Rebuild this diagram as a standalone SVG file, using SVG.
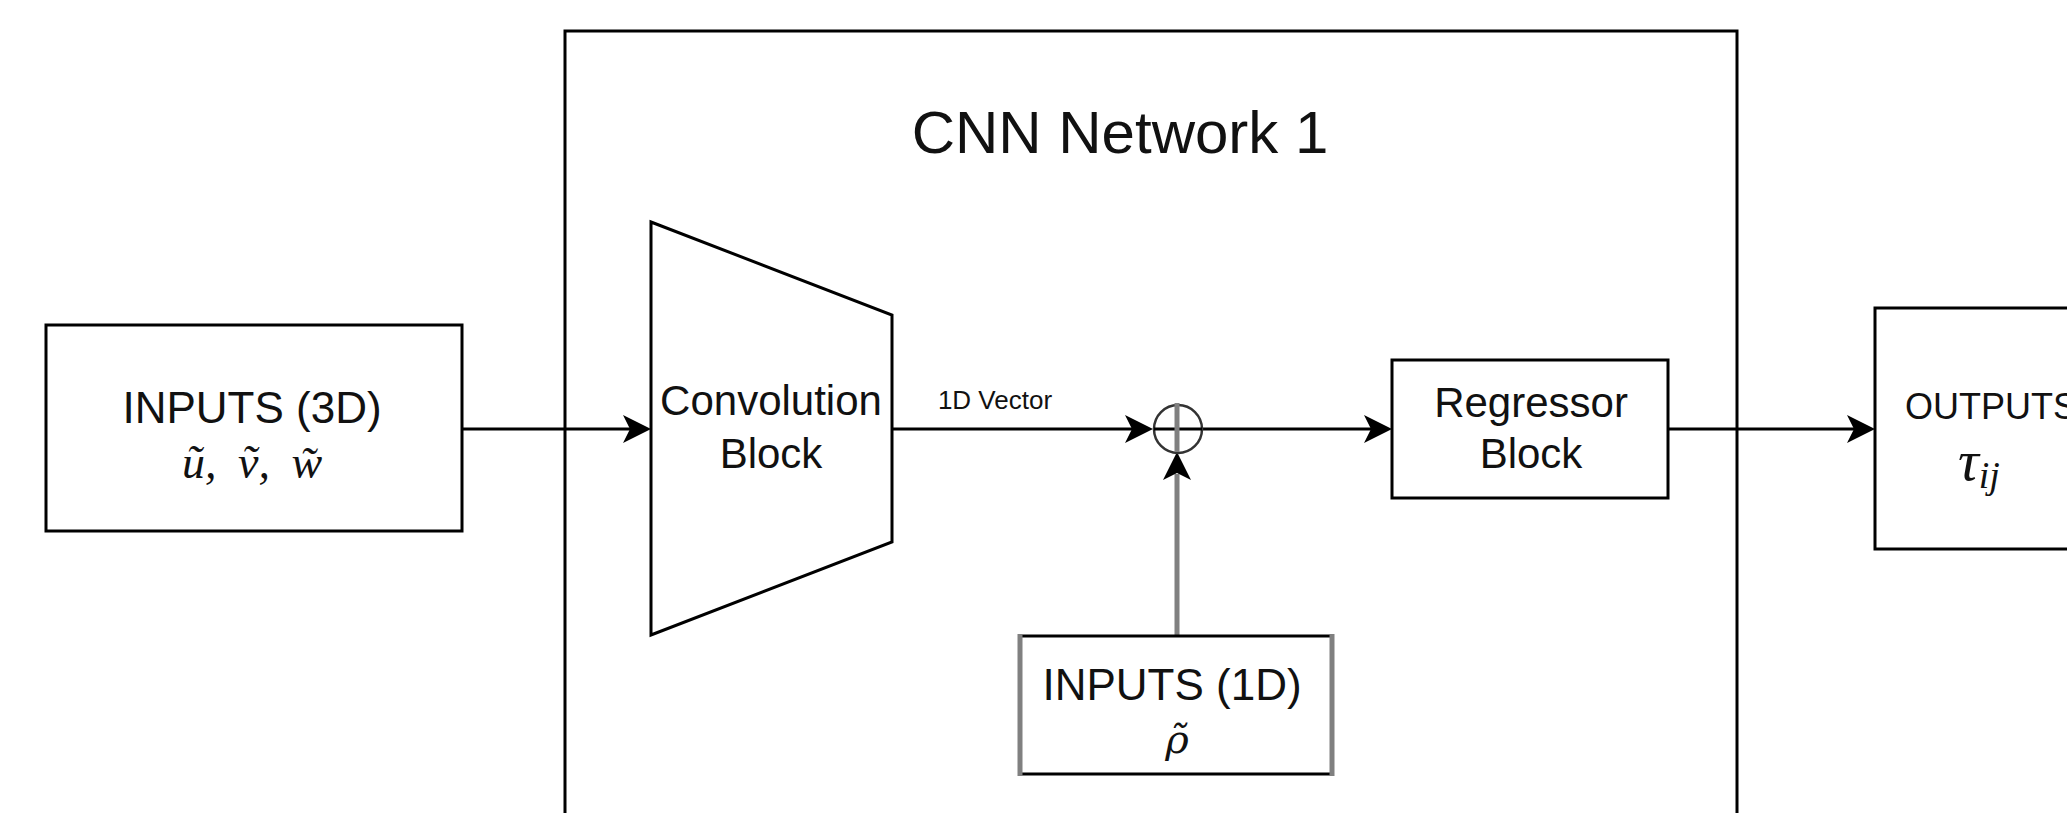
<svg xmlns="http://www.w3.org/2000/svg" width="2067" height="813" viewBox="0 0 2067 813">
<style>
.box{fill:#fff;stroke:#000;stroke-width:3}
.frame{fill:none;stroke:#000;stroke-width:3}
.lbl{font-family:"Liberation Sans",Arial,Helvetica,sans-serif;fill:#111;text-anchor:middle}
.math{font-family:"Liberation Serif","DejaVu Serif","Times New Roman",serif;font-style:italic;fill:#111}
.edge{fill:none;stroke:#000;stroke-width:3}
.gedge{fill:none;stroke:#808080;stroke-width:5}
</style>
<defs>
<marker id="arr" viewBox="0 0 28 28" refX="8" refY="14" markerWidth="28" markerHeight="28" markerUnits="userSpaceOnUse" orient="auto">
<path d="M0,0 L28,14 L0,28 L7,14 Z" fill="#000"/>
</marker>
</defs>
<rect width="2067" height="813" fill="#fff"/>

<g id="cnn-network">
<rect class="frame" x="565" y="31" width="1172" height="900"/>
<text class="lbl" x="1120" y="153" font-size="60">CNN Network 1</text>
</g>

<g id="connectors">
<path class="edge" d="M462,429 H631" marker-end="url(#arr)"/>
<path class="edge" d="M892,429 H1133" marker-end="url(#arr)"/>
<text class="lbl" x="995" y="409" font-size="26" fill="#222">1D Vector</text>
<path class="edge" d="M1202,429 H1372" marker-end="url(#arr)"/>
<path class="edge" d="M1668,429 H1855" marker-end="url(#arr)"/>
<path class="gedge" d="M1177,636 V474"/>
<path d="M1177,452 L1191,480 L1177,473 L1163,480 Z" fill="#000"/>
</g>

<g id="inputs-3d">
<rect class="box" x="46" y="325" width="416" height="206"/>
<text class="lbl" x="252" y="423" font-size="44">INPUTS (3D)</text>
<text class="math" x="182" y="478" font-size="46" word-spacing="10">ũ, ṽ, w̃</text>
</g>

<g id="convolution-block">
<polygon class="box" points="651,222 892,315 892,542 651,635"/>
<text class="lbl" x="771" y="415" font-size="42">Convolution</text>
<text class="lbl" x="771" y="468" font-size="42">Block</text>
</g>

<g id="sum-node">
<circle cx="1178" cy="429" r="24" fill="#fff" stroke="#333" stroke-width="2.5"/>
<line x1="1154" y1="429" x2="1202" y2="429" stroke="#000" stroke-width="3"/>
<line x1="1177" y1="403" x2="1177" y2="452" stroke="#808080" stroke-width="5"/>
</g>

<g id="regressor-block">
<rect class="box" x="1392" y="360" width="276" height="138"/>
<text class="lbl" x="1531" y="417" font-size="42">Regressor</text>
<text class="lbl" x="1531" y="468" font-size="42">Block</text>
</g>

<g id="inputs-1d">
<rect x="1020" y="636" width="312" height="138" fill="#fff"/>
<line x1="1020" y1="636" x2="1332" y2="636" stroke="#000" stroke-width="3"/>
<line x1="1020" y1="774" x2="1332" y2="774" stroke="#000" stroke-width="3"/>
<line x1="1020" y1="634" x2="1020" y2="776" stroke="#808080" stroke-width="5"/>
<line x1="1332" y1="634" x2="1332" y2="776" stroke="#808080" stroke-width="5"/>
<text class="lbl" x="1172" y="700" font-size="44">INPUTS (1D)</text>
<text x="1177" y="753" font-size="40" text-anchor="middle" font-style="italic" fill="#111" font-family="'DejaVu Serif', serif">ρ̃</text>
</g>

<g id="outputs">
<rect class="box" x="1875" y="308" width="260" height="241"/>
<text class="lbl" x="1905" y="419" font-size="36" style="text-anchor:start">OUTPUTS</text>
<text class="math" x="1958" y="480" font-size="58">τ<tspan y="488" font-size="38">ij</tspan></text>
</g>
</svg>
